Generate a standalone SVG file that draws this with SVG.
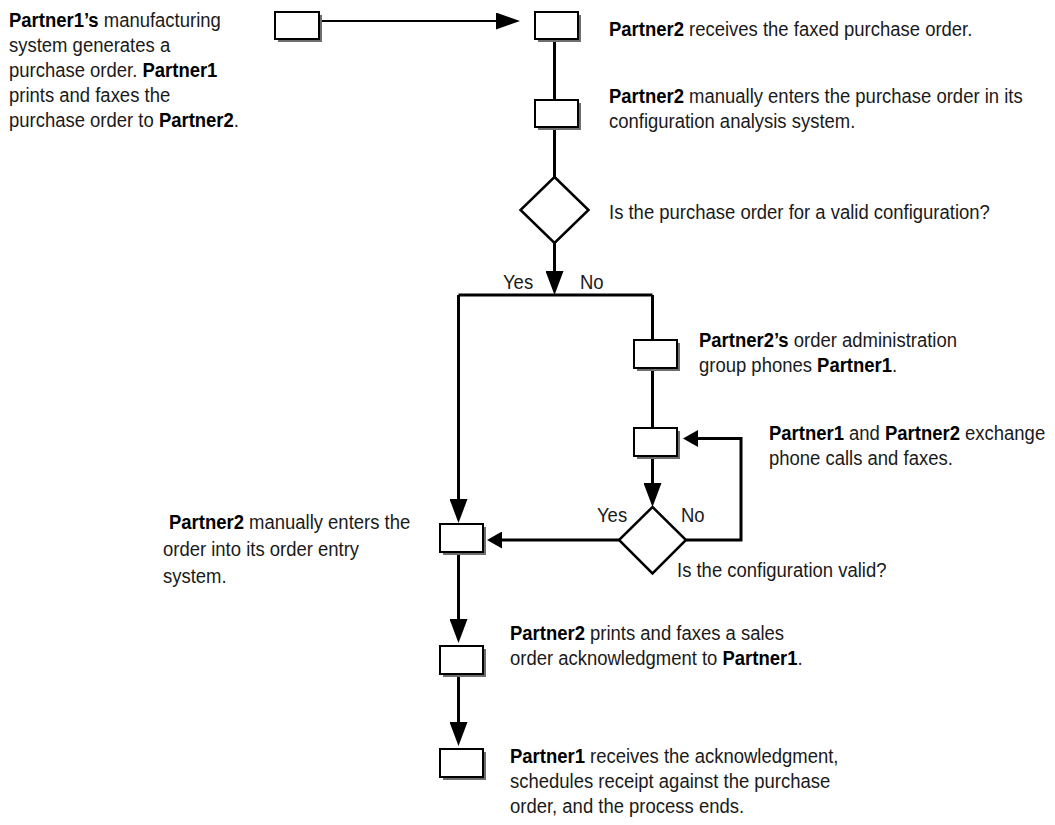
<svg xmlns="http://www.w3.org/2000/svg" width="1055" height="825" viewBox="0 0 1055 825">
<defs>
<style>
text{font-family:"Liberation Sans",Arial,sans-serif;font-size:21px;fill:#1a1a1a}
.b{font-weight:bold;fill:#000}
.sh{fill:#6e6e6e}
.bx{fill:#fff;stroke:#000;stroke-width:2}
.dm{fill:#fff;stroke:#000;stroke-width:2.5}
.ln{fill:none;stroke:#000;stroke-width:3}
.ln2{fill:none;stroke:#000;stroke-width:2}
</style>
<marker id="big" viewBox="0 0 24 18" refX="16" refY="9" markerWidth="24" markerHeight="18" markerUnits="userSpaceOnUse" orient="auto"><path d="M0,0 L24,9 L0,18 Z" fill="#000"/></marker>
<marker id="top" viewBox="0 0 24 17" refX="18" refY="8.5" markerWidth="24" markerHeight="17" markerUnits="userSpaceOnUse" orient="auto"><path d="M0,0 L24,8.5 L0,17 Z" fill="#000"/></marker>
<marker id="sm" viewBox="0 0 15 17" refX="9" refY="8.5" markerWidth="15" markerHeight="17" markerUnits="userSpaceOnUse" orient="auto"><path d="M0,0 L15,8.5 L0,17 Z" fill="#000"/></marker>
</defs>
<rect width="1055" height="825" fill="#fff"/>

<g id="connectors">
<path class="ln2" d="M320,21 H514" marker-end="url(#top)"/>
<path class="ln" d="M554.5,39 V100"/>
<path class="ln" d="M554.5,127 V177"/>
<path class="ln" d="M554.5,243 V287" marker-end="url(#big)"/>
<path class="ln" d="M458.5,295 H652.5"/>
<path class="ln" d="M458.5,295 V515" marker-end="url(#big)"/>
<path class="ln" d="M652.5,295 V340"/>
<path class="ln" d="M652.5,368 V428"/>
<path class="ln" d="M652.5,456 V499" marker-end="url(#big)"/>
<path class="ln" d="M686,540 H741 V438.5 H689" marker-end="url(#sm)"/>
<path class="ln" d="M619,540 H493" marker-end="url(#sm)"/>
<path class="ln" d="M458.5,552 V635" marker-end="url(#big)"/>
<path class="ln" d="M458.5,674 V738" marker-end="url(#big)"/>
</g>

<g id="n1"><rect class="sh" x="278" y="15" width="44" height="27"/><rect class="bx" x="275" y="12" width="44" height="27"/>
<text transform="translate(9 27) scale(0.88 1)"><tspan class="b">Partner1’s</tspan> manufacturing</text>
<text transform="translate(9 52) scale(0.88 1)">system generates a</text>
<text transform="translate(9 77) scale(0.88 1)">purchase order. <tspan class="b">Partner1</tspan></text>
<text transform="translate(9 102) scale(0.88 1)">prints and faxes the</text>
<text transform="translate(9 127) scale(0.88 1)">purchase order to <tspan class="b">Partner2</tspan>.</text>
</g>

<g id="n2"><rect class="sh" x="538" y="15" width="43" height="27"/><rect class="bx" x="535" y="12" width="43" height="27"/>
<text transform="translate(609 36) scale(0.88 1)"><tspan class="b">Partner2</tspan> receives the faxed purchase order.</text>
</g>

<g id="n3"><rect class="sh" x="538" y="103" width="43" height="27"/><rect class="bx" x="535" y="100" width="43" height="27"/>
<text transform="translate(609 103) scale(0.88 1)"><tspan class="b">Partner2</tspan> manually enters the purchase order in its</text>
<text transform="translate(609 128) scale(0.88 1)">configuration analysis system.</text>
</g>

<g id="d1"><polygon class="dm" points="554.5,177 588.5,210 554.5,243 520.5,210"/>
<text transform="translate(609 219) scale(0.88 1)">Is the purchase order for a valid configuration?</text>
<text transform="translate(503 289) scale(0.88 1)">Yes</text>
<text transform="translate(580 289) scale(0.88 1)">No</text>
</g>

<g id="n4"><rect class="sh" x="637" y="343" width="43" height="28"/><rect class="bx" x="634" y="340" width="43" height="28"/>
<text transform="translate(699 347) scale(0.88 1)"><tspan class="b">Partner2’s</tspan> order administration</text>
<text transform="translate(699 372) scale(0.88 1)">group phones <tspan class="b">Partner1</tspan>.</text>
</g>

<g id="n5"><rect class="sh" x="637" y="431" width="43" height="28"/><rect class="bx" x="634" y="428" width="43" height="28"/>
<text transform="translate(769 440) scale(0.88 1)"><tspan class="b">Partner1</tspan> and <tspan class="b">Partner2</tspan> exchange</text>
<text transform="translate(769 465) scale(0.88 1)">phone calls and faxes.</text>
</g>

<g id="d2"><polygon class="dm" points="652.5,507 686,540 652.5,573.5 619,540"/>
<text transform="translate(597 522) scale(0.88 1)">Yes</text>
<text transform="translate(681 522) scale(0.88 1)">No</text>
<text transform="translate(677 577) scale(0.88 1)">Is the configuration valid?</text>
</g>

<g id="n6"><rect class="sh" x="443" y="527" width="43" height="28"/><rect class="bx" x="440" y="524" width="43" height="28"/>
<text transform="translate(169 529) scale(0.88 1)"><tspan class="b">Partner2</tspan> manually enters the</text>
<text transform="translate(163 556) scale(0.88 1)">order into its order entry</text>
<text transform="translate(163 583) scale(0.88 1)">system.</text>
</g>

<g id="n7"><rect class="sh" x="443" y="649" width="43" height="28"/><rect class="bx" x="440" y="646" width="43" height="28"/>
<text transform="translate(510 640) scale(0.88 1)"><tspan class="b">Partner2</tspan> prints and faxes a sales</text>
<text transform="translate(510 665) scale(0.88 1)">order acknowledgment to <tspan class="b">Partner1</tspan>.</text>
</g>

<g id="n8"><rect class="sh" x="443" y="752" width="43" height="28"/><rect class="bx" x="440" y="749" width="43" height="28"/>
<text transform="translate(510 763) scale(0.88 1)"><tspan class="b">Partner1</tspan> receives the acknowledgment,</text>
<text transform="translate(510 788) scale(0.88 1)">schedules receipt against the purchase</text>
<text transform="translate(510 813) scale(0.88 1)">order, and the process ends.</text>
</g>
</svg>
